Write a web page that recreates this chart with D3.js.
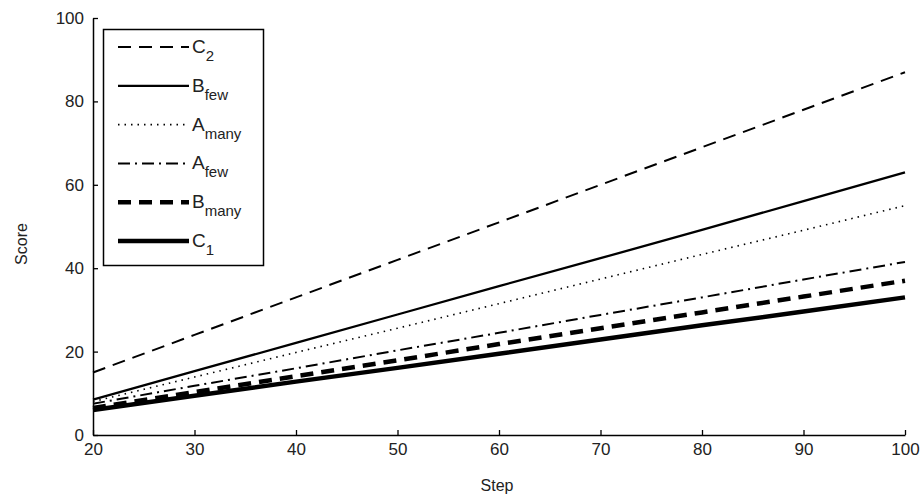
<!DOCTYPE html>
<html><head><meta charset="utf-8">
<script src="https://cdn.jsdelivr.net/npm/d3@7"></script>
<style>body{margin:0;background:#fff}svg{display:block}text{font-family:"Liberation Sans",Arial,sans-serif;fill:#222}</style>
</head><body>
<svg id="c" width="923" height="497"></svg>
<script>
const steps = [20, 30, 40, 50, 60, 70, 80, 90, 100];
const C2     = [15, 24, 33, 42, 51, 60, 69, 78, 87];
const Bfew   = [8.5, 15.3, 22.1, 28.9, 35.7, 42.4, 49.2, 56.1, 63];
const Amany  = [8, 13.9, 19.8, 25.6, 31.5, 37.4, 43.3, 49.1, 55];
const Afew   = [7.5, 11.8, 16, 20.3, 24.5, 28.8, 33, 37.3, 41.5];
const Bmany  = [6.5, 10.3, 14.1, 17.9, 21.8, 25.6, 29.4, 33.2, 37];
const C1     = [6, 9.4, 12.8, 16.1, 19.5, 22.9, 26.3, 29.6, 33];
const seriesNames = [["C","2"],["B","few"],["A","many"],["A","few"],["B","many"],["C","1"]];
const xTicks = [20, 30, 40, 50, 60, 70, 80, 90, 100];
const yTicks = [0, 20, 40, 60, 80, 100];

const styles = [
  {w:2, dash:"13,8"},
  {w:2.3, dash:null},
  {w:1.6, dash:"1.5,5"},
  {w:2, dash:"12,5,2,5"},
  {w:4.5, dash:"13,8"},
  {w:4.5, dash:null}
];
const data = [C2, Bfew, Amany, Afew, Bmany, C1];

const svg = d3.select("#c");
const x = d3.scaleLinear().domain([20,100]).range([93,905]);
const y = d3.scaleLinear().domain([0,100]).range([435,18]);

const line = d3.line().x((d,i)=>x(steps[i])).y(d=>y(d));
data.forEach((s,k)=>{
  svg.append("path").attr("d", line(s)).attr("fill","none")
    .attr("stroke","#000").attr("stroke-width",styles[k].w)
    .attr("stroke-dasharray",styles[k].dash);
});

const xAxis = d3.axisBottom(x).tickValues(xTicks).tickSize(-5).tickSizeOuter(0).tickPadding(8);
const gx = svg.append("g").attr("transform","translate(0,435)").call(xAxis);
const yAxis = d3.axisLeft(y).tickValues(yTicks).tickSize(-5).tickSizeOuter(0).tickPadding(9);
const gy = svg.append("g").attr("transform","translate(93,0)").call(yAxis);
[gx,gy].forEach(g=>{
  g.select(".domain").attr("stroke","#000").attr("stroke-width",1.5);
  g.selectAll(".tick line").attr("stroke","#000").attr("stroke-width",1.3);
  g.selectAll(".tick text").attr("font-size",17).attr("fill","#222").attr("font-family","Liberation Sans, Arial, sans-serif");
});

svg.append("text").attr("x",497).attr("y",491).attr("text-anchor","middle").attr("font-size",16).text("Step");
svg.append("text").attr("transform","translate(27,244) rotate(-90)").attr("text-anchor","middle").attr("font-size",16).text("Score");

// legend
const lg = svg.append("g");
lg.append("rect").attr("x",103.5).attr("y",29.5).attr("width",160).attr("height",236)
  .attr("fill","#fff").attr("stroke","#000").attr("stroke-width",1.5);
const ly = d3.scalePoint().domain(d3.range(6)).range([47,241]);
seriesNames.forEach((n,k)=>{
  const yy = ly(k);
  lg.append("line").attr("x1",118).attr("x2",189).attr("y1",yy).attr("y2",yy)
    .attr("stroke","#000").attr("stroke-width",styles[k].w).attr("stroke-dasharray",styles[k].dash);
  const t = lg.append("text").attr("x",192).attr("y",yy+6).attr("font-size",19);
  t.append("tspan").text(n[0]);
  t.append("tspan").attr("dy",8).attr("font-size",15).text(n[1]);
});
</script>
</body></html>
